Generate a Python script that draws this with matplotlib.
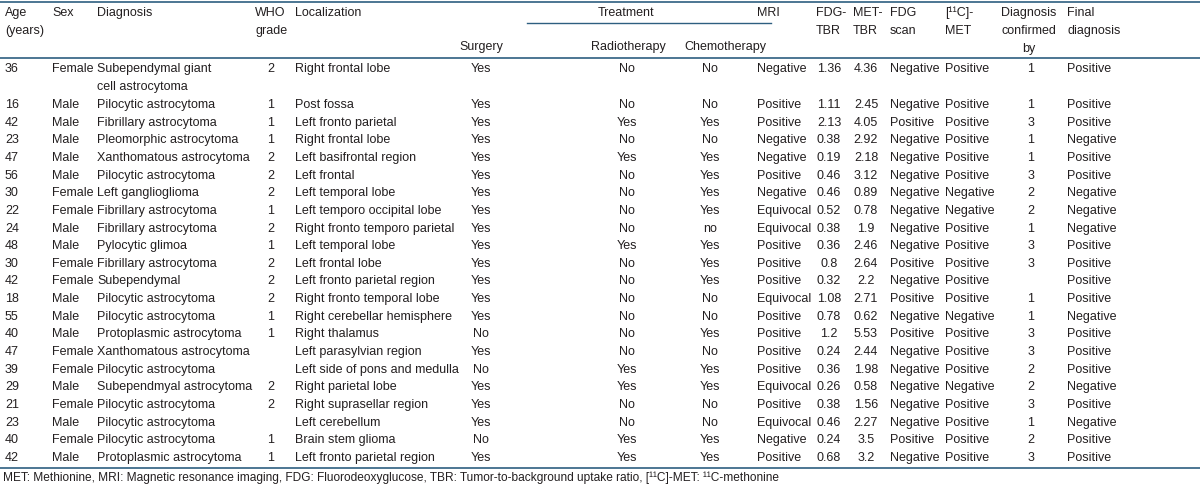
import matplotlib
matplotlib.use("Agg")
import matplotlib.pyplot as plt

plt.rcParams['font.family'] = ['Liberation Sans', 'DejaVu Sans']

# tablo verileri
age = ["36", "16", "42", "23", "47", "56", "30", "22", "24", "48", "30",
       "42", "18", "55", "40", "47", "39", "29", "21", "23", "40", "42"]
sex = ["Female", "Male", "Male", "Male", "Male", "Male", "Female", "Female",
       "Male", "Male", "Female", "Female", "Male", "Male", "Male", "Female",
       "Female", "Male", "Female", "Male", "Female", "Male"]
diagnosis = ["Subependymal giant\ncell astrocytoma", "Pilocytic astrocytoma",
             "Fibrillary astrocytoma", "Pleomorphic astrocytoma",
             "Xanthomatous astrocytoma", "Pilocytic astrocytoma",
             "Left ganglioglioma", "Fibrillary astrocytoma",
             "Fibrillary astrocytoma", "Pylocytic glimoa",
             "Fibrillary astrocytoma", "Subependymal", "Pilocytic astrocytoma",
             "Pilocytic astrocytoma", "Protoplasmic astrocytoma",
             "Xanthomatous astrocytoma", "Pilocytic astrocytoma",
             "Subependmyal astrocytoma", "Pilocytic astrocytoma",
             "Pilocytic astrocytoma", "Pilocytic astrocytoma",
             "Protoplasmic astrocytoma"]
who_grade = ["2", "1", "1", "1", "2", "2", "2", "1", "2", "1", "2",
             "2", "2", "1", "1", "", "", "2", "2", "", "1", "1"]
localization = ["Right frontal lobe", "Post fossa", "Left fronto parietal",
                "Right frontal lobe", "Left basifrontal region", "Left frontal",
                "Left temporal lobe", "Left temporo occipital lobe",
                "Right fronto temporo parietal", "Left temporal lobe",
                "Left frontal lobe", "Left fronto parietal region",
                "Right fronto temporal lobe", "Right cerebellar hemisphere",
                "Right thalamus", "Left parasylvian region",
                "Left side of pons and medulla", "Right parietal lobe",
                "Right suprasellar region", "Left cerebellum",
                "Brain stem glioma", "Left fronto parietal region"]
surgery = ["Yes", "Yes", "Yes", "Yes", "Yes", "Yes", "Yes", "Yes", "Yes", "Yes",
           "Yes", "Yes", "Yes", "Yes", "No", "Yes", "No", "Yes", "Yes", "Yes",
           "No", "Yes"]
radiotherapy = ["No", "No", "Yes", "No", "Yes", "No", "No", "No", "No", "Yes",
                "No", "No", "No", "No", "No", "No", "Yes", "Yes", "No", "No",
                "Yes", "Yes"]
chemotherapy = ["No", "No", "Yes", "No", "Yes", "Yes", "Yes", "Yes", "no", "Yes",
                "Yes", "Yes", "No", "No", "Yes", "No", "Yes", "Yes", "No", "No",
                "Yes", "Yes"]
mri = ["Negative", "Positive", "Positive", "Negative", "Negative", "Positive",
       "Negative", "Equivocal", "Equivocal", "Positive", "Positive", "Positive",
       "Equivocal", "Positive", "Positive", "Positive", "Positive", "Equivocal",
       "Positive", "Equivocal", "Negative", "Positive"]
fdg_tbr = ["1.36", "1.11", "2.13", "0.38", "0.19", "0.46", "0.46", "0.52", "0.38",
           "0.36", "0.8", "0.32", "1.08", "0.78", "1.2", "0.24", "0.36", "0.26",
           "0.38", "0.46", "0.24", "0.68"]
met_tbr = ["4.36", "2.45", "4.05", "2.92", "2.18", "3.12", "0.89", "0.78", "1.9",
           "2.46", "2.64", "2.2", "2.71", "0.62", "5.53", "2.44", "1.98", "0.58",
           "1.56", "2.27", "3.5", "3.2"]
fdg_scan = ["Negative", "Negative", "Positive", "Negative", "Negative", "Negative",
            "Negative", "Negative", "Negative", "Negative", "Positive", "Negative",
            "Positive", "Negative", "Positive", "Negative", "Negative", "Negative",
            "Negative", "Negative", "Positive", "Negative"]
met_scan = ["Positive", "Positive", "Positive", "Positive", "Positive", "Positive",
            "Negative", "Negative", "Positive", "Positive", "Positive", "Positive",
            "Positive", "Negative", "Positive", "Positive", "Positive", "Negative",
            "Positive", "Positive", "Positive", "Positive"]
confirmed_by = ["1", "1", "3", "1", "1", "3", "2", "2", "1", "3", "3", "", "1",
                "1", "3", "3", "2", "2", "3", "1", "2", "3"]
final_diagnosis = ["Positive", "Positive", "Positive", "Negative", "Positive",
                   "Positive", "Negative", "Negative", "Negative", "Positive",
                   "Positive", "Positive", "Positive", "Negative", "Positive",
                   "Positive", "Positive", "Negative", "Positive", "Negative",
                   "Positive", "Positive"]

headers = ["Age\n(years)", "Sex", "Diagnosis", "WHO\ngrade", "Localization",
           "Surgery", "Radiotherapy", "Chemotherapy", "MRI", "FDG-\nTBR",
           "MET-\nTBR", "FDG\nscan", "[¹¹C]-\nMET", "Diagnosis\nconfirmed\nby",
           "Final\ndiagnosis"]
footnote = ("MET: Methionine, MRI: Magnetic resonance imaging, FDG: Fluorodeoxyglucose, "
            "TBR: Tumor-to-background uptake ratio, [¹¹C]-MET: ¹¹C-methonine")

columns = [age, sex, diagnosis, who_grade, localization, surgery, radiotherapy,
           chemotherapy, mri, fdg_tbr, met_tbr, fdg_scan, met_scan,
           confirmed_by, final_diagnosis]

# kolon yerlesimi (piksel): x, hizalama
col_x = [5, 52, 97, 271, 295, 481, 627, 710, 757, 829, 866, 890, 945, 1031, 1067]
col_ha = ["left", "left", "left", "center", "left", "center", "center", "center",
          "left", "center", "center", "left", "left", "center", "left"]
head_x = [5, 52, 97, 255, 295, 481, 628, 725, 757, 816, 853, 890, 945, 1029, 1067]
head_ha = ["left", "left", "left", "left", "left", "center", "center", "center",
           "left", "left", "left", "left", "left", "center", "left"]

txt = '#231f20'
line_c = '#2e5f80'
fs = 9
base = 3.5   # satir merkezinden baseline'a

fig = plt.figure(figsize=(12, 4.87), dpi=100)
ax = fig.add_axes([0, 0, 1, 1])
ax.set_xlim(0, 1200)
ax.set_ylim(487, 0)
ax.axis('off')

# cizgiler
ax.plot([0, 1200], [1.5, 1.5], color=line_c, lw=1.2)
ax.plot([527, 771], [23, 23], color=line_c, lw=1.0)
ax.plot([0, 1200], [58, 58], color=line_c, lw=1.2)
ax.plot([0, 1200], [468, 468], color=line_c, lw=1.2)

# basliklar
ax.text(626, round(13 + base), "Treatment", ha='center', va='baseline',
        fontsize=fs, color=txt)
for i, h in enumerate(headers):
    top = 46 if i in (5, 6, 7) else 13
    for n, part in enumerate(h.split("\n")):
        ax.text(head_x[i], round(top + base + 17.5 * n), part, ha=head_ha[i],
                va='baseline', fontsize=fs, color=txt)

# satirlar - baseline hizali, ilk satir iki satirlik
row_y = [69] + [104.5 + 17.65 * k for k in range(len(age) - 1)]
for j, col in enumerate(columns):
    for r, val in enumerate(col):
        for n, part in enumerate(val.split("\n")):
            ax.text(col_x[j], round(row_y[r] + base + 17 * n), part, ha=col_ha[j],
                    va='baseline', fontsize=fs, color=txt)

ax.text(3, 478, footnote, ha='left', va='center', fontsize=8.55, color=txt)

fig.savefig("out.png", dpi=100)
